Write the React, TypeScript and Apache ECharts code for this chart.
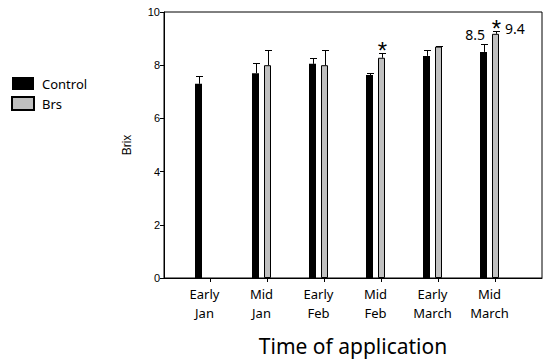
import React, { useEffect, useRef } from "react";
import * as echarts from "echarts";

const categories = ["Early\nJan", "Mid\nJan", "Early\nFeb", "Mid\nFeb", "Early\nMarch", "Mid\nMarch"];
const controlMeans = [7.3, 7.7, 8.05, 7.63, 8.35, 8.5];
const controlErrors = [0.3, 0.37, 0.22, 0.08, 0.22, 0.3];
const brsMeans: (number | null)[] = [null, 8.0, 8.0, 8.28, 8.7, 9.18];
const brsErrors: (number | null)[] = [null, 0.56, 0.56, 0.19, 0.03, 0.1];
const brsSignificant = [false, false, false, true, false, true];
const valueLabels = [
  { category: 5, series: "Control", text: "8.5" },
  { category: 5, series: "Brs", text: "9.4" },
];
const yMin = 0;
const yMax = 10;
const yInterval = 2;

function errorSeries(name: string, means: (number | null)[], errs: (number | null)[], sig: boolean[], offset: number) {
  const data: number[][] = [];
  means.forEach((m, i) => {
    if (m != null && errs[i] != null) data.push([i, m, errs[i] as number, sig[i] ? 1 : 0]);
  });
  return {
    type: "custom",
    name: name + " error",
    xAxisIndex: 1,
    yAxisIndex: 1,
    silent: true,
    z: 5,
    data,
    encode: { x: 0, y: 1 },
    renderItem: (params: any, api: any) => {
      const i = api.value(0);
      const m = api.value(1);
      const e = api.value(2);
      const s = api.value(3);
      const base = api.coord([i, m]);
      const top = api.coord([i, m + e]);
      const x = Math.round(base[0] + offset) + 0.5;
      const ty = Math.round(top[1]) + 0.5;
      const children: any[] = [
        { type: "line", shape: { x1: x, y1: base[1], x2: x, y2: ty }, style: { stroke: "#000", lineWidth: 1 } },
        { type: "line", shape: { x1: x - 3.5, y1: ty, x2: x + 3.5, y2: ty }, style: { stroke: "#000", lineWidth: 1 } },
      ];
      if (s) {
        children.push({
          type: "text",
          x: x,
          y: ty - 3,
          style: { text: "*", fill: "#000", font: '24px "Liberation Sans"', align: "center", verticalAlign: "middle" },
        });
      }
      valueLabels
        .filter((l) => l.category === i && l.series === name)
        .forEach((l) => {
          if (name === "Control") {
            children.push({
              type: "text",
              x: x + 0.5,
              y: ty - 10.5,
              style: { text: l.text, fill: "#000", font: '14px "Noto Sans"', align: "right", verticalAlign: "middle" },
            });
          } else {
            children.push({
              type: "text",
              x: x + 8.5,
              y: ty - 3.5,
              style: { text: l.text, fill: "#000", font: '14px "Noto Sans"', align: "left", verticalAlign: "middle" },
            });
          }
        });
      return { type: "group", children };
    },
  };
}

export default function App() {
  const ref = useRef<HTMLDivElement>(null);
  useEffect(() => {
    document.body.style.margin = "0";
    if (!ref.current) return;
    const chart = echarts.init(ref.current, null, { renderer: "svg" });
    chart.setOption({
      animation: false,
      backgroundColor: "#fff",
      legend: {
        data: ["Control", "Brs"],
        orient: "vertical",
        left: 6,
        top: 72,
        icon: "rect",
        itemWidth: 22,
        itemHeight: 13,
        itemGap: 6,
        textStyle: { fontFamily: "Noto Sans", fontSize: 13, color: "#000", padding: [0, 0, 0, 3] },
      },
      grid: [
        { left: 164, right: 10, top: 12, bottom: 83, show: true, borderColor: "#000", borderWidth: 1, backgroundColor: "transparent" },
        { left: 182, right: 28, top: 12, bottom: 83 },
      ],
      xAxis: [
        {
          type: "value",
          gridIndex: 0,
          min: 0,
          max: 1,
          axisLine: { show: true, lineStyle: { color: "#000", width: 1 } },
          axisTick: { show: false },
          axisLabel: { show: false },
          splitLine: { show: false },
          name: "Time of application",
          nameLocation: "middle",
          nameGap: 57,
          nameTextStyle: { fontFamily: "Noto Sans", fontSize: 21, color: "#000" },
        },
        {
          type: "category",
          gridIndex: 1,
          data: categories,
          boundaryGap: true,
          axisLine: { show: false },
          axisTick: { show: true, alignWithLabel: true, length: 4, lineStyle: { color: "#000", width: 1 } },
          axisLabel: {
            color: "#000",
            fontFamily: "Noto Sans",
            fontSize: 13,
            lineHeight: 19,
            margin: 6,
            padding: [0, 12, 0, 0],
            interval: 0,
          },
          splitLine: { show: false },
        },
      ],
      yAxis: [
        {
          type: "value",
          gridIndex: 0,
          min: yMin,
          max: yMax,
          interval: yInterval,
          axisLine: { show: true, lineStyle: { color: "#000", width: 1 } },
          axisTick: { show: true, inside: false, length: 4, lineStyle: { color: "#000" } },
          axisLabel: { color: "#000", fontFamily: "Liberation Sans", fontSize: 11, margin: 4 },
          splitLine: { show: false },
          name: "Brix",
          nameLocation: "middle",
          nameGap: 31,
          nameTextStyle: { fontFamily: "Liberation Sans", fontSize: 12, color: "#000" },
        },
        {
          type: "value",
          gridIndex: 1,
          min: yMin,
          max: yMax,
          interval: yInterval,
          show: false,
          splitLine: { show: false },
        },
      ],
      series: [
        {
          type: "bar",
          name: "Control",
          xAxisIndex: 1,
          yAxisIndex: 1,
          data: controlMeans,
          barWidth: 7,
          barGap: "71.4%",
          itemStyle: { color: "#000", borderColor: "#000", borderWidth: 0 },
        },
        {
          type: "bar",
          name: "Brs",
          xAxisIndex: 1,
          yAxisIndex: 1,
          data: brsMeans,
          barWidth: 7,
          barGap: "71.4%",
          itemStyle: { color: "#c0c0c0", borderColor: "#000", borderWidth: 1 },
        },
        {
          type: "bar",
          name: "spacer",
          xAxisIndex: 1,
          yAxisIndex: 1,
          data: categories.map(() => null),
          barWidth: 7,
          barGap: "71.4%",
          silent: true,
        },
        errorSeries("Control", controlMeans, controlErrors, controlMeans.map(() => false), -12),
        errorSeries("Brs", brsMeans, brsErrors, brsSignificant, 0),
      ],
    });
    return () => chart.dispose();
  }, []);
  return <div ref={ref} style={{ width: 552, height: 361 }} />;
}
